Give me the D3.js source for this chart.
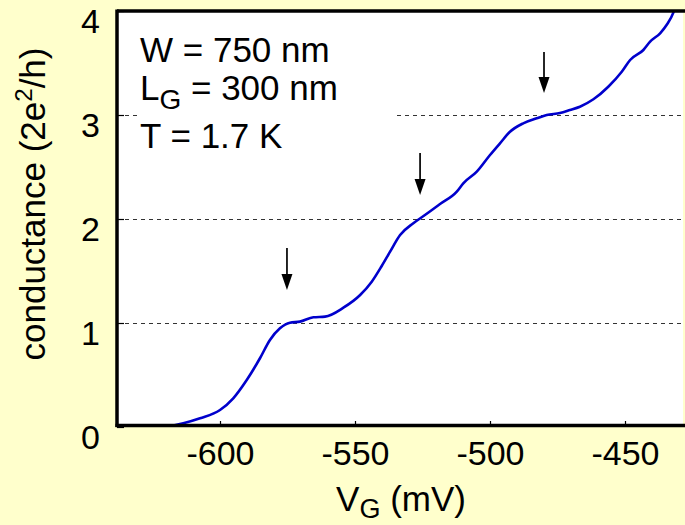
<!DOCTYPE html>
<html><head><meta charset="utf-8">
<script src="https://cdn.jsdelivr.net/npm/d3@7"></script>
<style>
html,body{margin:0;padding:0;background:#FFFFCC;}
svg{display:block;font-family:"Liberation Sans",Arial,sans-serif;}
</style></head>
<body>
<svg id="chart" width="685" height="525"></svg>
<script>
// ---- data ----
const vg = [-620.4,-613.6,-607.4,-600,-595.1,-590.1,-585.2,-581.5,-577.8,-574.1,-570.4,-565.4,-561.1,-554.3,-548.1,-543.8,-540.1,-537.0,-533.3,-528.4,-524.1,-518.5,-512.3,-509.9,-504.9,-500,-496.3,-492.6,-487.7,-482.7,-479.0,-474.1,-470.4,-466.7,-461.7,-456.2,-451.2,-448.1,-443.2,-440.7,-437.0,-434.6,-432.1,-431.5];
const conductance = [0,0.036,0.084,0.163,0.276,0.452,0.661,0.837,0.949,1.003,1.013,1.055,1.061,1.147,1.269,1.397,1.548,1.686,1.846,1.959,2.038,2.144,2.263,2.343,2.455,2.615,2.728,2.839,2.920,2.968,3.0,3.019,3.048,3.080,3.151,3.272,3.416,3.529,3.625,3.705,3.786,3.865,3.984,4.03];
const xTicks = [-600,-550,-500,-450];
const yTicks = [0,1,2,3,4];
const plateaus = [1,2,3];
const arrowV = [-575.2,-525.9,-480.0];
const arrowTipG = [1.317,2.231,3.212];
const arrowTailG = [1.721,2.635,3.606];
const infoLines = [["W = 750 nm",null,""],["L","G"," = 300 nm"],["T = 1.7 K",null,""]];

// ---- layout ----
const svg = d3.select("#chart");
const L = 117, R = 683, T = 11, B = 427;
const x = d3.scaleLinear().domain([-638.15,-428.52]).range([L,R]);
const y = d3.scaleLinear().domain([0,4]).range([B,T]);

svg.append("rect").attr("width",685).attr("height",525).attr("fill","#FFFFCC");
svg.append("rect").attr("x",L).attr("y",T).attr("width",R-L).attr("height",B-T).attr("fill","#fff");

svg.append("clipPath").attr("id","clip").append("rect")
  .attr("x",L).attr("y",T).attr("width",R-L).attr("height",B-T);

// dashed plateau lines
svg.append("g").selectAll("line").data(plateaus).join("line")
  .attr("x1",L).attr("x2",R).attr("y1",d=>y(d)+0.5).attr("y2",d=>y(d)+0.5)
  .attr("stroke","#333").attr("stroke-width",1).attr("stroke-dasharray","4,4");

// white box behind annotation
svg.append("rect").attr("x",138).attr("y",22).attr("width",259).attr("height",135).attr("fill","#fff");

// curve
svg.append("path").datum(vg.map((v,i)=>[v,conductance[i]]))
  .attr("clip-path","url(#clip)")
  .attr("fill","none").attr("stroke","#0000CC").attr("stroke-width",2.6)
  .attr("stroke-linejoin","round")
  .attr("d",d3.line().x(d=>x(d[0])).y(d=>y(d[1])).curve(d3.curveMonotoneX));

// arrows
const ag = svg.append("g");
arrowV.forEach((v,i)=>{
  const ax = x(v), tip = y(arrowTipG[i]), tail = y(arrowTailG[i]);
  ag.append("line").attr("x1",ax).attr("x2",ax).attr("y1",tail).attr("y2",tip-12)
    .attr("stroke","#000").attr("stroke-width",1.7);
  ag.append("path").attr("d",`M${ax-5.5},${tip-16}L${ax+5.5},${tip-16}L${ax},${tip}Z`).attr("fill","#000");
});

// axes
const xAxis = svg.append("g").attr("transform",`translate(0,${B})`)
  .call(d3.axisBottom(x).tickValues(xTicks).tickSize(-6).tickPadding(16).tickFormat(d=>String(d)));
xAxis.select(".domain").remove();
xAxis.selectAll("line").attr("stroke","#000").attr("stroke-width",1.2);
xAxis.selectAll("text").attr("font-size",34).attr("fill","#000").attr("dy","0.71em").attr("y",14);

const yAxis = svg.append("g").attr("transform",`translate(${L},0)`)
  .call(d3.axisLeft(y).tickValues(yTicks).tickSize(-7).tickPadding(17).tickFormat(d=>String(d)));
yAxis.select(".domain").remove();
yAxis.selectAll("line").attr("stroke","#000").attr("stroke-width",1.2);
yAxis.selectAll("text").attr("font-size",34).attr("fill","#000").attr("dy","0.62em");

// frame
svg.append("line").attr("x1",L).attr("x2",685).attr("y1",T).attr("y2",T).attr("stroke","#000").attr("stroke-width",3.5);
svg.append("line").attr("x1",L).attr("x2",L).attr("y1",T-1.5).attr("y2",B).attr("stroke","#000").attr("stroke-width",3.5);
svg.append("line").attr("x1",L-1.5).attr("x2",685).attr("y1",B-1.5).attr("y2",B-1.5).attr("stroke","#000").attr("stroke-width",3.5);

// annotation
const baselines = [62,100,148];
infoLines.forEach((ln,i)=>{
  const t = svg.append("text").attr("x",140).attr("y",baselines[i]).attr("font-size",35).attr("fill","#000");
  t.append("tspan").text(ln[0]);
  if(ln[1]){
    t.append("tspan").attr("font-size",28).attr("dy",9).text(ln[1]);
    t.append("tspan").attr("dy",-9).text(ln[2]);
  }
});

// axis titles
const xt = svg.append("text").attr("x",401).attr("y",511).attr("text-anchor","middle").attr("font-size",35).attr("fill","#000");
xt.append("tspan").text("V");
xt.append("tspan").attr("font-size",27).attr("dy",7).text("G");
xt.append("tspan").attr("dy",-7).text(" (mV)");

const yt = svg.append("text").attr("transform","translate(45,204) rotate(-90)").attr("text-anchor","middle").attr("font-size",35).attr("fill","#000");
yt.append("tspan").text("conductance (2e");
yt.append("tspan").attr("font-size",24).attr("dy",-13).text("2");
yt.append("tspan").attr("dy",13).text("/h)");
</script>
</body></html>
